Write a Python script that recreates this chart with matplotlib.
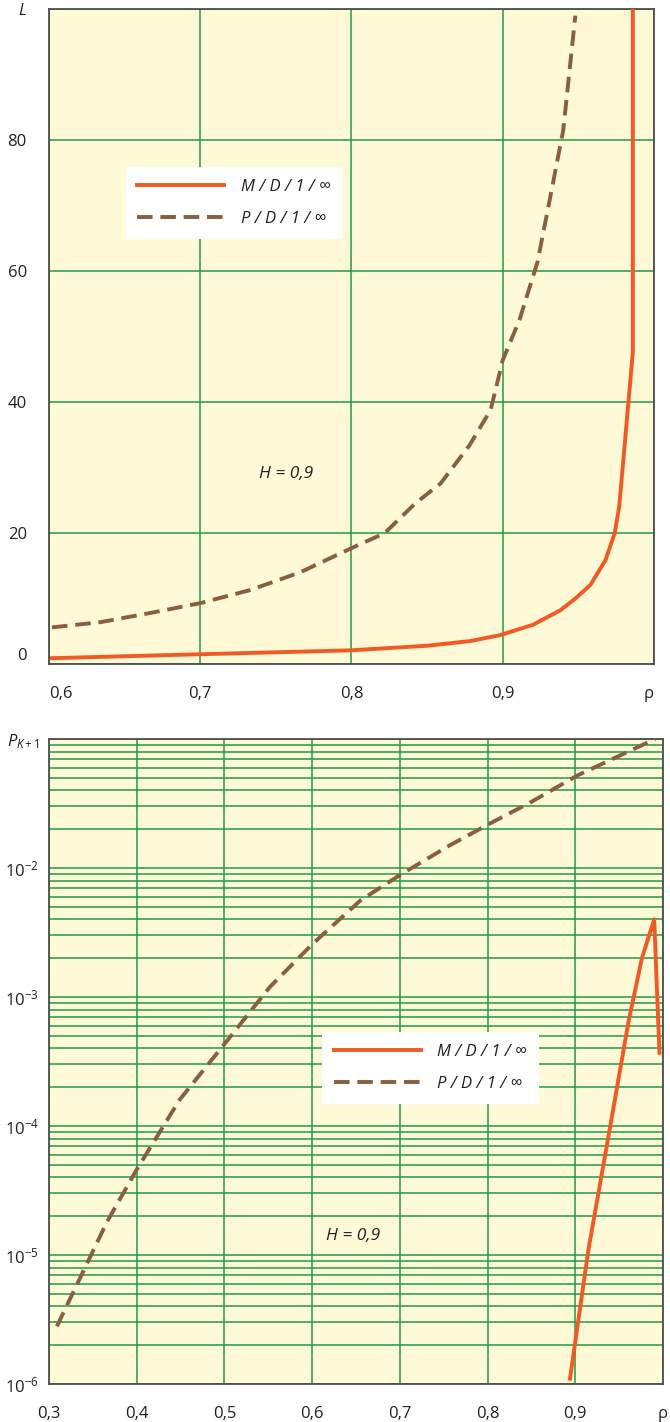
import numpy as np
import matplotlib
matplotlib.use('Agg')
import matplotlib.pyplot as plt

plt.rcParams['font.family'] = ['Open Sans', 'DejaVu Sans']
plt.rcParams['mathtext.fontset'] = 'custom'
plt.rcParams['mathtext.rm'] = 'Open Sans'
plt.rcParams['mathtext.it'] = 'Open Sans:italic'

# top chart: mean queue length L vs load rho
rho_md_top = [0.602, 0.70, 0.80, 0.85, 0.878, 0.898, 0.92, 0.938, 0.948, 0.958,
              0.968, 0.974, 0.977, 0.986, 0.986]
L_md = [0.9, 1.5, 2.1, 2.8, 3.5, 4.4, 6.0, 8.2, 10.0, 12.1,
        15.9, 20.0, 24.0, 47.6, 100]
rho_pd_top = [0.602, 0.634, 0.667, 0.70, 0.733, 0.766, 0.80, 0.822, 0.842, 0.859,
              0.878, 0.892, 0.90, 0.911, 0.923, 0.931, 0.94, 0.948]
L_pd = [5.6, 6.4, 7.8, 9.3, 11.3, 14.0, 17.7, 20.0, 24.5, 27.6,
        33.4, 38.8, 46.4, 52.5, 61.4, 70.8, 81.5, 99]

# bottom chart: loss probability P_K+1 vs rho
rho_md_bot = [0.894, 0.915, 0.941, 0.951, 0.961, 0.976, 0.990, 0.996]
P_md = [1.1e-6, 1.1e-5, 1.1e-4, 2.7e-4, 6.6e-4, 2.0e-3, 4.0e-3, 3.7e-4]
rho_pd_bot = [0.309, 0.366, 0.400, 0.449, 0.501, 0.552, 0.601, 0.655, 0.701,
              0.757, 0.802, 0.848, 0.902, 0.991]
P_pd = [2.8e-6, 1.8e-5, 4.6e-5, 1.6e-4, 4.4e-4, 1.2e-3, 2.6e-3, 5.6e-3, 8.9e-3,
        1.5e-2, 2.2e-2, 3.2e-2, 5.2e-2, 1.0e-1]

top_xticks = [0.6, 0.7, 0.8, 0.9, 1.0]
top_xlabels = ['0,6', '0,7', '0,8', '0,9', 'ρ']
top_yticks = [0, 20, 40, 60, 80, 100]
top_ylabels = ['0', '20', '40', '60', '80', '$\\mathit{L}$']
bot_xticks = [0.3, 0.4, 0.5, 0.6, 0.7, 0.8, 0.9, 1.0]
bot_xlabels = ['0,3', '0,4', '0,5', '0,6', '0,7', '0,8', '0,9', 'ρ']
bot_yticks = [1e-6, 1e-5, 1e-4, 1e-3, 1e-2, 1e-1]
bot_ylabels = ['$10^{-6}$', '$10^{-5}$', '$10^{-4}$', '$10^{-3}$', '$10^{-2}$',
               '$\\mathit{P}_{\\mathit{K}+1}$']

lbl_md = 'M / D / 1 / ∞'
lbl_pd = 'P / D / 1 / ∞'

bg = '#fef9d7'
grid_c = '#1f9a41'
c_md = '#f15a24'
c_pd = '#8b5e3c'
spine_c = '#4d4d4d'
txt_c = '#231f20'

fig = plt.figure(figsize=(6.7, 14.22), dpi=100)
ax1 = fig.add_axes([0.0731, 0.533, 0.903, 0.4606])
ax2 = fig.add_axes([0.0731, 0.0267, 0.9164, 0.4536])


def style(ax, ypad):
    ax.set_facecolor(bg)
    for s in ax.spines.values():
        s.set_color(spine_c)
        s.set_linewidth(1.3)
    ax.tick_params(which='both', length=0, labelsize=12, colors=txt_c)
    ax.tick_params(axis='y', pad=ypad)
    ax.tick_params(axis='x', pad=16)


def legend(ax, x, y):
    leg = ax.legend(loc='upper left', bbox_to_anchor=(x, y), borderaxespad=0,
                    frameon=True, fancybox=False, framealpha=1, edgecolor='white',
                    handlelength=5.2, handletextpad=1.0, labelspacing=1.0,
                    borderpad=0.7, prop={'style': 'italic', 'size': 12})
    leg.get_frame().set_linewidth(0)
    for t in leg.get_texts():
        t.set_color(txt_c)


style(ax1, 16)
ax1.plot(rho_md_top, L_md, color=c_md, lw=2.8, label=lbl_md, zorder=3)
ax1.plot(rho_pd_top, L_pd, color=c_pd, lw=2.8, dashes=(4, 2), label=lbl_pd, zorder=3)
ax1.set_xlim(0.6, 1.0)
ax1.set_ylim(0, 100)
ax1.set_xticks(top_xticks)
ax1.set_xticklabels(top_xlabels)
ax1.set_yticks(top_yticks)
ax1.set_yticklabels(top_ylabels)
ax1.get_xticklabels()[0].set_ha('left')
ax1.get_xticklabels()[-1].set_ha('right')
ax1.get_yticklabels()[0].set_va('bottom')
ax1.grid(True, color=grid_c, lw=1.1)
ax1.set_axisbelow(True)
ax1.text(0.757, 29, 'H = 0,9', style='italic', fontsize=12.5, color=txt_c,
         ha='center', va='center')
legend(ax1, 0.127, 0.759)

style(ax2, 7)
ax2.plot(rho_md_bot, P_md, color=c_md, lw=2.8, label=lbl_md, zorder=3)
ax2.plot(rho_pd_bot, P_pd, color=c_pd, lw=2.8, dashes=(4, 2), label=lbl_pd, zorder=3)
ax2.set_yscale('log')
ax2.set_xlim(0.3, 1.0)
ax2.set_ylim(1e-6, 1e-1)
ax2.set_xticks(bot_xticks)
ax2.set_xticklabels(bot_xlabels)
ax2.set_yticks(bot_yticks)
ax2.set_yticklabels(bot_ylabels)
ax2.yaxis.set_minor_locator(matplotlib.ticker.LogLocator(base=10, subs=np.arange(2, 10)))
ax2.yaxis.set_minor_formatter(matplotlib.ticker.NullFormatter())
ax2.grid(True, which='both', color=grid_c, lw=1.1)
ax2.set_axisbelow(True)
ax2.text(0.647, 1.4e-5, 'H = 0,9', style='italic', fontsize=12.5, color=txt_c,
         ha='center', va='center')
legend(ax2, 0.445, 0.546)

fig.savefig('out.png', dpi=100, facecolor='white')
